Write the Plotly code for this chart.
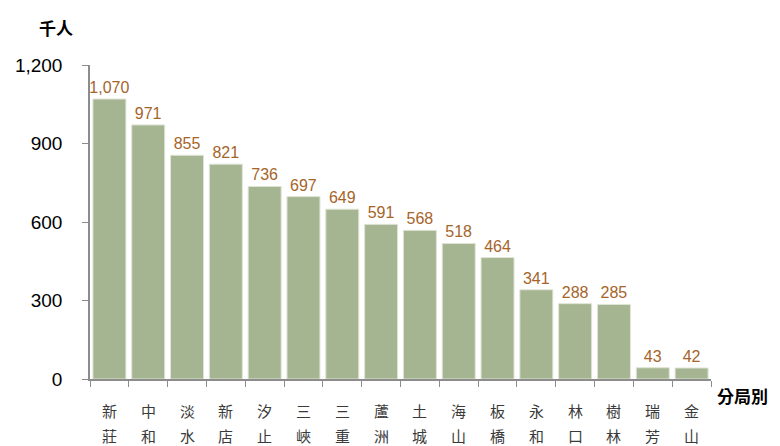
import plotly.graph_objects as go

districts = ["新莊", "中和", "淡水", "新店", "汐止", "三峽", "三重", "蘆洲",
             "土城", "海山", "板橋", "永和", "林口", "樹林", "瑞芳", "金山"]
population = [1070, 971, 855, 821, 736, 697, 649, 591, 568, 518, 464, 341, 288, 285, 43, 42]

BAR_COLOR = "#a6b591"
LABEL_COLOR = "#a5652a"
AXIS_COLOR = "#8c8c8c"
CJK_FONT = "Noto Sans CJK TC"

fig = go.Figure(
    go.Bar(
        x=districts,
        y=population,
        marker=dict(color=BAR_COLOR, line=dict(color="#dfe5d6", width=1)),
        text=[f"{v:,}" for v in population],
        textposition="outside",
        constraintext="none",
        cliponaxis=False,
        textfont=dict(family="Liberation Sans, Arial, sans-serif", size=16, color=LABEL_COLOR),
    )
)

# category names written vertically, one character per line
annotations = []
for d in districts:
    for i, ch in enumerate(d):
        annotations.append(dict(
            text=ch, x=d, xref="x", y=0, yref="y",
            yanchor="middle", yshift=-31 - 25 * i, showarrow=False,
            borderpad=0,
            font=dict(family=CJK_FONT, size=15, color="#3a3a3a"),
        ))

annotations += [
    dict(text="<b>千人</b>", xref="paper", yref="paper", x=-0.055, y=1.121,
         xanchor="center", yanchor="middle", showarrow=False,
         font=dict(family=CJK_FONT, size=17, color="#000000")),
    dict(text="<b>分局別</b>", xref="paper", yref="paper", x=1.006, y=-0.051,
         xanchor="left", yanchor="middle", showarrow=False,
         font=dict(family=CJK_FONT, size=17, color="#000000")),
]

fig.update_layout(
    width=780,
    height=446,
    template="simple_white",
    paper_bgcolor="white",
    plot_bgcolor="white",
    margin=dict(l=82, r=77, t=57, b=75),
    bargap=0.15,
    showlegend=False,
    font=dict(family="Liberation Sans, Arial, sans-serif", size=15, color="#000000"),
    annotations=annotations,
)

fig.update_xaxes(
    tickson="boundaries",
    ticks="outside",
    ticklen=6,
    tickcolor=AXIS_COLOR,
    showline=True,
    linecolor=AXIS_COLOR,
    linewidth=1.5,
    showgrid=False,
    showticklabels=False,
    automargin=False,
)
fig.update_yaxes(
    range=[0, 1200],
    tickvals=[0, 300, 600, 900, 1200],
    tickformat=",",
    ticks="outside",
    ticklen=6,
    tickcolor=AXIS_COLOR,
    showline=True,
    linecolor=AXIS_COLOR,
    linewidth=1.5,
    showgrid=False,
    zeroline=False,
    automargin=False,
    ticklabelstandoff=16,
    tickfont=dict(family="Liberation Sans, Arial, sans-serif", size=19, color="#000000"),
)

fig.write_html("out.html")
